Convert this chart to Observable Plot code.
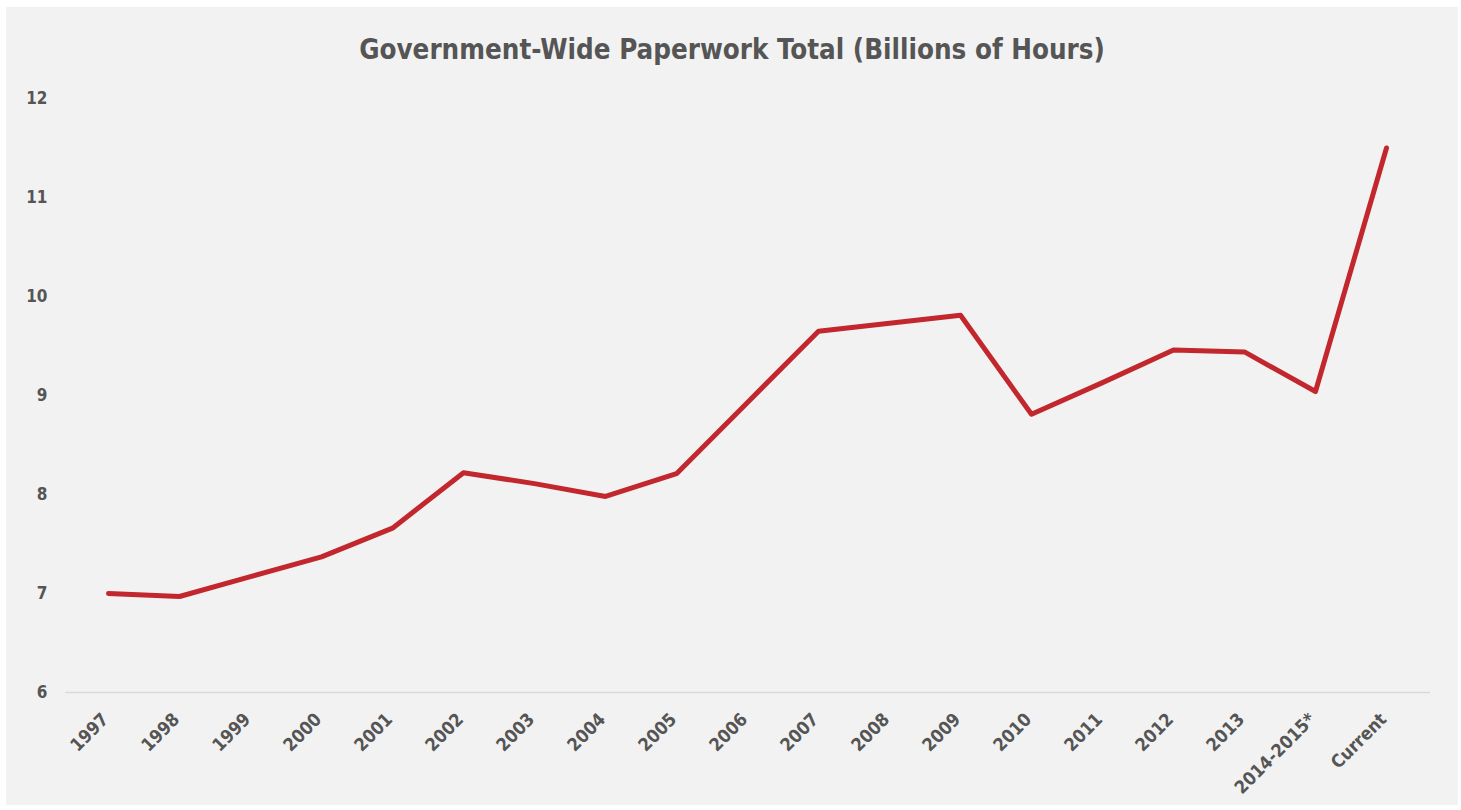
<!DOCTYPE html>
<html>
<head>
<meta charset="utf-8">
<script src="https://cdn.jsdelivr.net/npm/d3@7"></script>
<script src="https://cdn.jsdelivr.net/npm/@observablehq/plot@0.6"></script>
<style>
  html, body { margin: 0; padding: 0; background: #ffffff; }
  #panel { position: absolute; left: 6px; top: 7px; width: 1452px; height: 798px; background: #f2f2f2; overflow: hidden; }
  #title { height: 75px; line-height: 84px; text-align: center; font-family: "DejaVu Sans Condensed", "DejaVu Sans", sans-serif; font-weight: bold; font-size: 27.5px; color: #555555; }
  #chart svg { display: block; }
</style>
</head>
<body>
<div id="panel">
  <div id="title">Government-Wide Paperwork Total (Billions of Hours)</div>
  <div id="chart"></div>
</div>
<script>
const categories = ["1997","1998","1999","2000","2001","2002","2003","2004","2005","2006","2007","2008","2009","2010","2011","2012","2013","2014-2015*","Current"];
const hours = [7.0, 6.97, 7.17, 7.37, 7.66, 8.22, 8.11, 7.98, 8.21, 8.93, 9.65, 9.73, 9.81, 8.81, 9.13, 9.46, 9.44, 9.04, 11.5];
const yTicks = [6, 7, 8, 9, 10, 11, 12];

const data = categories.map((c, i) => ({category: c, value: hours[i]}));

const chart = Plot.plot({
  width: 1452,
  height: 723,
  marginLeft: 59,
  marginRight: 28,
  marginTop: 16,
  marginBottom: 113,
  style: {background: "transparent", fontFamily: "'DejaVu Sans Condensed', 'DejaVu Sans', sans-serif", fontWeight: "bold", fontSize: "17px", color: "#555555"},
  x: {type: "point", domain: categories, range: [96, 1386], padding: 0, axis: null},
  y: {domain: [6, 12]},
  marks: [
    Plot.ruleY([6], {stroke: "#d9d9d9", strokeWidth: 1.5}),
    Plot.axisY({ticks: yTicks, tickFormat: d3.format("d"), tickSize: 0, tickPadding: 18, label: null, fill: "#555555", fontSize: 17}),
    Plot.text(categories, {x: d => d, frameAnchor: "bottom", dy: 24, dx: -3, rotate: -45, textAnchor: "end", lineAnchor: "middle", fill: "#555555", fontSize: 18, fontWeight: "bold"}),
    Plot.line(data, {x: "category", y: "value", stroke: "#c1272d", strokeWidth: 5, strokeLinejoin: "round", strokeLinecap: "round"})
  ]
});
document.getElementById("chart").appendChild(chart);
</script>
</body>
</html>
